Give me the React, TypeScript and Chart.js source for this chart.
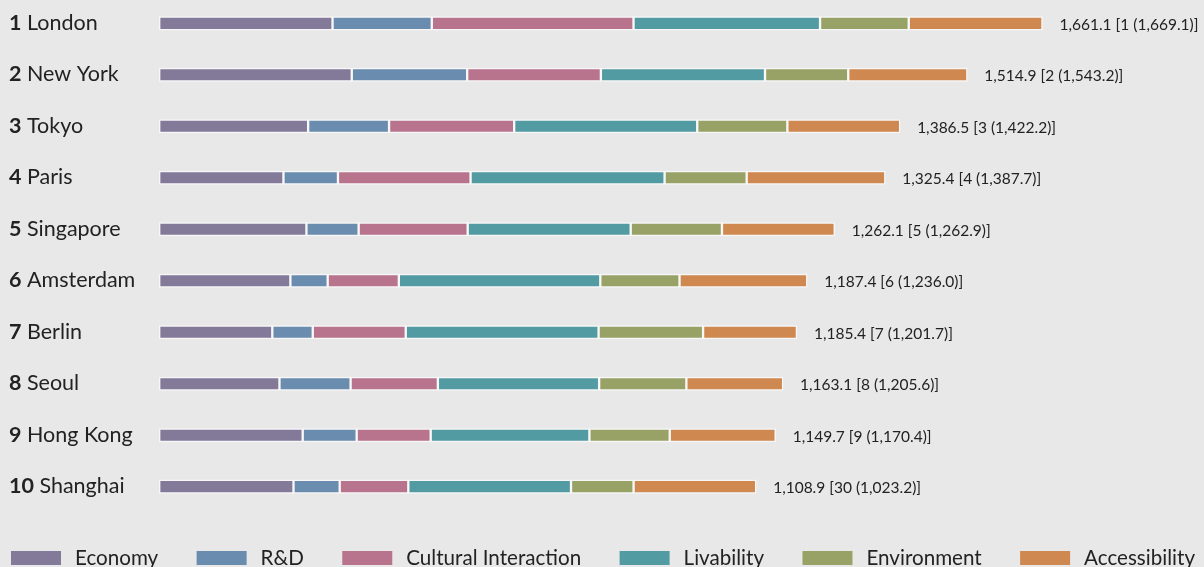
import React, { useEffect, useRef } from 'react';
import { Chart, registerables } from 'chart.js';

Chart.register(...registerables);

const ranks = [1, 2, 3, 4, 5, 6, 7, 8, 9, 10];
const cities = ['London', 'New York', 'Tokyo', 'Paris', 'Singapore', 'Amsterdam', 'Berlin', 'Seoul', 'Hong Kong', 'Shanghai'];

const economy = [326.0, 362.2, 280.1, 233.7, 276.9, 246.7, 212.7, 226.2, 269.9, 252.6];
const rnd = [186.7, 217.0, 152.2, 102.5, 98.2, 70.2, 76.1, 133.8, 101.5, 86.9];
const cultural = [379.4, 251.5, 235.3, 249.4, 205.1, 133.8, 174.9, 164.1, 139.2, 129.0];
const livability = [350.8, 308.7, 344.3, 364.9, 306.6, 378.9, 362.7, 303.3, 298.5, 306.0];
const environment = [166.8, 156.5, 169.5, 154.4, 171.6, 149.0, 196.5, 164.1, 151.1, 117.7];
const accessibility = [251.5, 224.0, 212.1, 260.7, 212.1, 240.2, 176.5, 181.9, 199.2, 230.5];

const totalScores = [1661.1, 1514.9, 1386.5, 1325.4, 1262.1, 1187.4, 1185.4, 1163.1, 1149.7, 1108.9];
const prevRanks = [1, 2, 3, 4, 5, 6, 7, 8, 9, 30];
const prevScores = [1669.1, 1543.2, 1422.2, 1387.7, 1262.9, 1236.0, 1201.7, 1205.6, 1170.4, 1023.2];

const seriesNames = ['Economy', 'R&D', 'Cultural Interaction', 'Livability', 'Environment', 'Accessibility'];
const seriesColors = ['#837a9a', '#6a8caf', '#b8738d', '#539ba3', '#99a266', '#cf884f'];
const seriesValues = [economy, rnd, cultural, livability, environment, accessibility];

const FONT = 'Lato, "Noto Sans", sans-serif';
const TEXT = '#222222';

const fmt = (v: number) =>
  v.toLocaleString('en-US', { minimumFractionDigits: 1, maximumFractionDigits: 1 });

const rowLabels = {
  id: 'rowLabels',
  afterDatasetsDraw(chart: any) {
    const { ctx } = chart;
    const xs = chart.scales.x;
    const ys = chart.scales.y;
    ctx.save();
    ctx.fillStyle = TEXT;
    ctx.textAlign = 'left';
    ctx.textBaseline = 'alphabetic';
    cities.forEach((city, i) => {
      const py = ys.getPixelForValue(i);
      ctx.font = `bold 21.5px ${FONT}`;
      const r = String(ranks[i]);
      ctx.fillText(r, 9, py + 6.5);
      const rw = ctx.measureText(r).width;
      ctx.font = `21.5px ${FONT}`;
      const sw = ctx.measureText(' ').width;
      ctx.fillText(city, 9 + rw + sw, py + 6.5);

      let sum = 0;
      seriesValues.forEach((s) => (sum += s[i]));
      const px = xs.getPixelForValue(sum);
      ctx.font = `15.5px ${FONT}`;
      ctx.fillText(`${fmt(totalScores[i])} [${prevRanks[i]} (${fmt(prevScores[i])})]`, px + 17, py + 6.5);
    });
    ctx.restore();
  },
};

const bottomLegend = {
  id: 'bottomLegend',
  afterDraw(chart: any) {
    const { ctx, chartArea } = chart;
    const left = 11;
    const right = 1195;
    const boxW = 50;
    const boxH = 14;
    const gapText = 14;
    ctx.save();
    ctx.font = `20.6px ${FONT}`;
    const widths = seriesNames.map((n) => ctx.measureText(n).width);
    const used = widths.reduce((a, w) => a + boxW + gapText + w, 0);
    const gap = (right - left - used) / (seriesNames.length - 1);
    const boxTop = chartArea.bottom + 64.3;
    let x = left;
    ctx.textAlign = 'left';
    ctx.textBaseline = 'alphabetic';
    seriesNames.forEach((n, k) => {
      ctx.fillStyle = seriesColors[k];
      ctx.fillRect(x, boxTop, boxW, boxH);
      ctx.fillStyle = TEXT;
      ctx.fillText(n, x + boxW + gapText, boxTop + boxH);
      x += boxW + gapText + widths[k] + gap;
    });
    ctx.restore();
  },
};

export default function App() {
  const ref = useRef<HTMLCanvasElement | null>(null);
  useEffect(() => {
    if (!ref.current) return;
    const chart = new Chart(ref.current, {
      type: 'bar',
      data: {
        labels: cities,
        datasets: seriesNames.map((name, k) => ({
          label: name,
          data: seriesValues[k],
          backgroundColor: seriesColors[k],
          borderColor: 'rgba(255,255,255,0.65)',
          borderWidth: 1.5,
          borderSkipped: false,
          barThickness: 13.5,
          clip: false as any,
        })),
      },
      options: {
        indexAxis: 'y',
        animation: false,
        responsive: false,
        maintainAspectRatio: false,
        layout: { padding: { left: 0, right: 0, top: 23.3, bottom: 80.3 } },
        scales: {
          x: {
            stacked: true,
            min: 0,
            max: 1965,
            display: false,
          },
          y: {
            stacked: true,
            display: true,
            offset: false,
            grid: { display: false },
            border: { display: false },
            ticks: { display: false },
            afterFit: (scale: any) => {
              scale.width = 159.2;
            },
          },
        },
        plugins: {
          tooltip: { enabled: false },
          legend: { display: false },
        },
      },
      plugins: [rowLabels, bottomLegend],
    });
    return () => chart.destroy();
  }, []);
  return (
    <div style={{ position: 'fixed', left: 0, top: 0, width: 1204, height: 567, background: '#e8e8e8' }}>
      <canvas ref={ref} width={1204} height={567} style={{ display: 'block' }} />
    </div>
  );
}
